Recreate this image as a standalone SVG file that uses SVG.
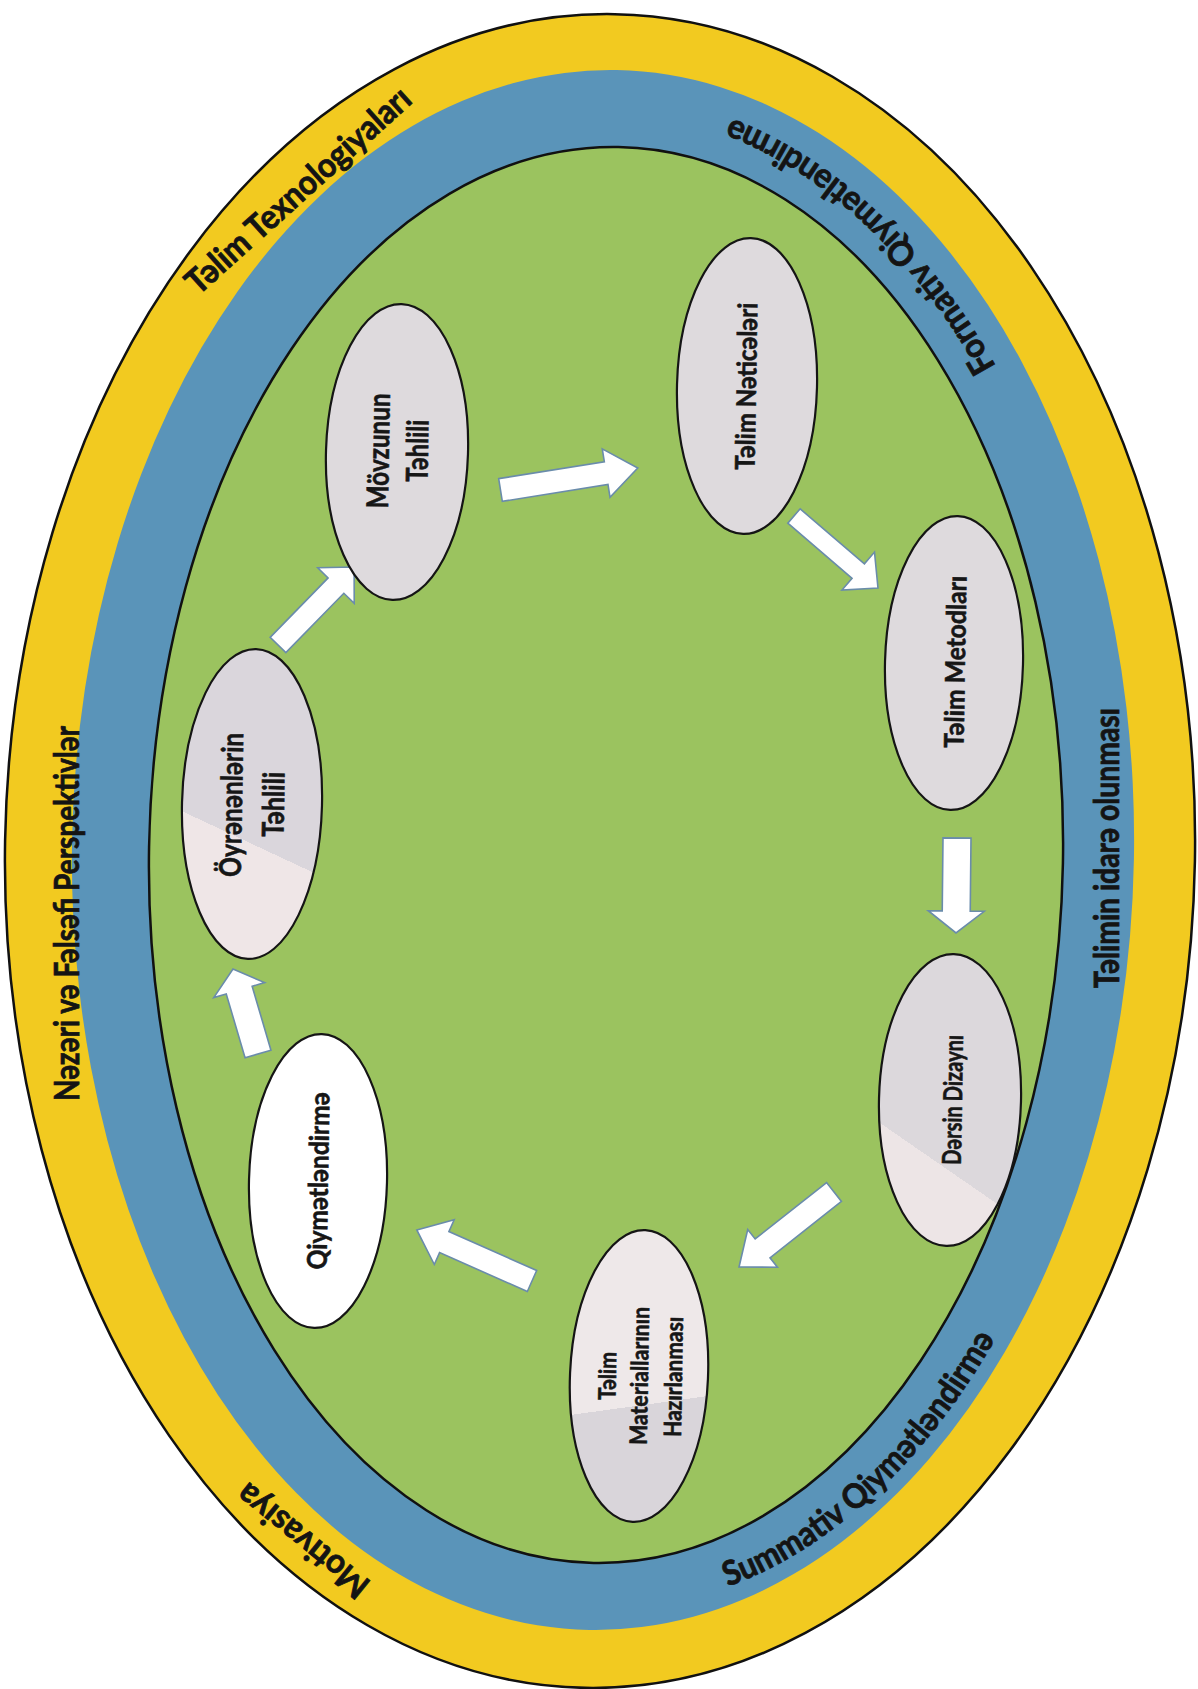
<svg xmlns="http://www.w3.org/2000/svg" width="1198" height="1689" viewBox="0 0 1198 1689">
<defs>
<style>
.band{font-family:Lato,"Open Sans","Liberation Sans",sans-serif;font-weight:700;font-size:34px;fill:#141414;stroke:#141414;stroke-width:0.8;}
.lbl{font-family:Lato,"Open Sans","Liberation Sans",sans-serif;font-weight:700;fill:#161616;stroke:#161616;stroke-width:0.6;}
.node{stroke:#151515;stroke-width:2.2;}
.arrow{fill:#ffffff;stroke:#6a8cab;stroke-width:1.6;stroke-linejoin:miter;}
</style>
<linearGradient id="gOyr" gradientUnits="userSpaceOnUse" x1="287.5" y1="749.8" x2="207.5" y2="933.2">
<stop offset="0" stop-color="#DAD6DC"/><stop offset="0.5" stop-color="#DAD6DC"/><stop offset="0.5" stop-color="#EFE6E7"/><stop offset="1" stop-color="#EFE6E7"/>
</linearGradient>
<linearGradient id="gMat" gradientUnits="userSpaceOnUse" x1="625" y1="1306.5" x2="661" y2="1503.5">
<stop offset="0" stop-color="#EEE8E9"/><stop offset="0.5" stop-color="#EEE8E9"/><stop offset="0.5" stop-color="#D9D5DA"/><stop offset="1" stop-color="#D9D5DA"/>
</linearGradient>
<linearGradient id="gDer" gradientUnits="userSpaceOnUse" x1="999" y1="1083" x2="890" y2="1250">
<stop offset="0" stop-color="#DCD8DC"/><stop offset="0.5" stop-color="#DCD8DC"/><stop offset="0.5" stop-color="#EDE5E6"/><stop offset="1" stop-color="#EDE5E6"/>
</linearGradient>
<path id="pF" d="M 998.0 370.0 A 510 758 0 0 0 727.4 117.0"/>
<path id="pS" d="M 723.0 1588.5 A 510 758 0 0 0 998.0 1334.0"/>
</defs>
<rect width="1198" height="1689" fill="#ffffff"/>
<g id="rings">
<ellipse cx="600" cy="851" rx="595" ry="837" fill="#F2CA20" stroke="#111" stroke-width="2.5" transform="rotate(1 600 851)"/>
<ellipse cx="603" cy="850" rx="531" ry="780" fill="#5A94B9" transform="rotate(1 603 850)"/>
<ellipse cx="606" cy="855" rx="457" ry="708" fill="#9BC35F" stroke="#111" stroke-width="2.5" transform="rotate(1 606 855)"/>
</g>
<g id="band-labels">
<text class="band" text-anchor="middle" transform="translate(79,913.5) rotate(-90)" textLength="375" lengthAdjust="spacingAndGlyphs">Nəzəri və Fəlsəfi Perspektivlər</text>
<text class="band" text-anchor="middle" transform="translate(306,199) rotate(-42)" textLength="290" lengthAdjust="spacingAndGlyphs">Təlim Texnologiyaları</text>
<text class="band" text-anchor="middle" transform="translate(310,1531.8) rotate(219.2)" textLength="160" lengthAdjust="spacingAndGlyphs">Motivasiya</text>
<text class="band" text-anchor="middle" transform="translate(1119,848) rotate(-90)" textLength="280" lengthAdjust="spacingAndGlyphs">Təlimin idarə olunması</text>
<text class="band" text-anchor="middle"><textPath href="#pF" startOffset="50%" textLength="370" lengthAdjust="spacingAndGlyphs">Formativ Qiymətləndirmə</textPath></text>
<text class="band" text-anchor="middle"><textPath href="#pS" startOffset="50%" textLength="372" lengthAdjust="spacingAndGlyphs">Summativ Qiymətləndirmə</textPath></text>
</g>
<g id="connectors">
<polygon class="arrow" points="0,-11.5 107,-11.5 107,-24.5 139,0 107,24.5 107,11.5 0,11.5" transform="translate(500.5,490) rotate(-9.1)"/>
<polygon class="arrow" points="0,-9.5 84.6,-9.5 84.6,-25 110.6,0 84.6,25 84.6,9.5 0,9.5" transform="translate(794,516) rotate(40.6)"/>
<polygon class="arrow" points="0,-14 73,-14 73,-28 95,0 73,28 73,14 0,14" transform="translate(957,838) rotate(90.6)"/>
<polygon class="arrow" points="0,-12 91,-12 91,-24 121,0 91,24 91,12 0,12" transform="translate(834,1192) rotate(141.7)"/>
<polygon class="arrow" points="0,-11.5 96,-11.5 96,-24.5 126,0 96,24.5 96,11.5 0,11.5" transform="translate(532,1281) rotate(-156.1)"/>
<polygon class="arrow" points="0,-13.5 66.6,-13.5 66.6,-26.5 88.6,0 66.6,26.5 66.6,13.5 0,13.5" transform="translate(258,1054) rotate(-106.4)"/>
<polygon class="arrow" points="0,-11 83,-11 83,-25.5 109,0 83,25.5 83,11 0,11" transform="translate(278,645) rotate(-45.7)"/>
</g>
<g id="node-movzunun">
<ellipse class="node" cx="397" cy="452" rx="71" ry="148" fill="#DEDADD" transform="rotate(1.8 397 452)"/>
<text class="lbl" font-size="30" text-anchor="middle" transform="translate(389,451) rotate(-89)" textLength="115" lengthAdjust="spacingAndGlyphs">Mövzunun</text>
<text class="lbl" font-size="30" text-anchor="middle" transform="translate(428,451) rotate(-89)" textLength="62" lengthAdjust="spacingAndGlyphs">Təhlili</text>
</g>
<g id="node-neticeler">
<ellipse class="node" cx="747" cy="386" rx="70" ry="148" fill="#DEDADD" transform="rotate(1.5 747 386)"/>
<text class="lbl" font-size="27" text-anchor="middle" transform="translate(756,386.5) rotate(-89)" textLength="167" lengthAdjust="spacingAndGlyphs">Təlim Nəticələri</text>
</g>
<g id="node-metodlar">
<ellipse class="node" cx="954" cy="663" rx="69" ry="147" fill="#DEDADD" transform="rotate(1.5 954 663)"/>
<text class="lbl" font-size="27" text-anchor="middle" transform="translate(965,662) rotate(-89)" textLength="172" lengthAdjust="spacingAndGlyphs">Təlim Metodları</text>
</g>
<g id="node-dersin">
<ellipse class="node" cx="950" cy="1100" rx="71" ry="146" fill="url(#gDer)" transform="rotate(1.5 950 1100)"/>
<text class="lbl" font-size="26" text-anchor="middle" transform="translate(962,1100) rotate(-89)" textLength="130" lengthAdjust="spacingAndGlyphs">Dərsin Dizaynı</text>
</g>
<g id="node-materiallar">
<ellipse class="node" cx="639" cy="1376" rx="69" ry="146" fill="url(#gMat)" transform="rotate(2.5 639 1376)"/>
<text class="lbl" font-size="24" text-anchor="middle" transform="translate(616,1376) rotate(-89)" textLength="48" lengthAdjust="spacingAndGlyphs">Təlim</text>
<text class="lbl" font-size="24" text-anchor="middle" transform="translate(648,1376) rotate(-89)" textLength="138" lengthAdjust="spacingAndGlyphs">Materiallarının</text>
<text class="lbl" font-size="24" text-anchor="middle" transform="translate(682,1377) rotate(-89)" textLength="120" lengthAdjust="spacingAndGlyphs">Hazırlanması</text>
</g>
<g id="node-qiymetlendirme">
<ellipse class="node" cx="318" cy="1181" rx="69" ry="147" fill="#FFFFFF" transform="rotate(1.5 318 1181)"/>
<text class="lbl" font-size="27" text-anchor="middle" transform="translate(328,1181) rotate(-89)" textLength="177" lengthAdjust="spacingAndGlyphs">Qiymətləndirmə</text>
</g>
<g id="node-oyrenenler">
<ellipse class="node" cx="252" cy="804" rx="70" ry="155" fill="url(#gOyr)" transform="rotate(1.5 252 804)"/>
<text class="lbl" font-size="30" text-anchor="middle" transform="translate(242,805) rotate(-89)" textLength="144" lengthAdjust="spacingAndGlyphs">Öyrənənlərin</text>
<text class="lbl" font-size="30" text-anchor="middle" transform="translate(284,804.5) rotate(-89)" textLength="65" lengthAdjust="spacingAndGlyphs">Təhlili</text>
</g>
</svg>
